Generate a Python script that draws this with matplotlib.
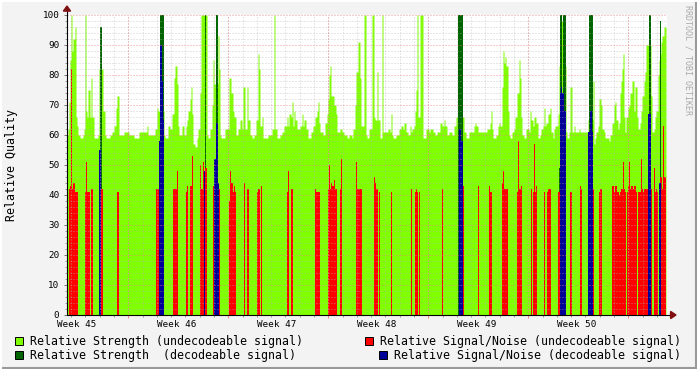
import numpy as np
import matplotlib.pyplot as plt
from matplotlib.patches import Rectangle, Polygon
from matplotlib.lines import Line2D
import matplotlib.transforms as mtrans

# one rrd row per 1.68 h -> 100 rows per week, 600 rows on the graph
STEP_DAYS = 7 / 100
N_ROWS = 600
FIRST_MONDAY = 4.29          # days after graph start
WEEKS = [45, 46, 47, 48, 49, 50]

# (row where the value starts, value) -- step series
green = [(0, 60), (1, 62), (2, 71), (3, 85), (4, 100), (5, 88), (6, 92), (8, 96), (9, 66), (10, 63),
         (11, 60), (13, 59), (16, 60), (17, 62), (18, 100), (19, 68), (20, 66), (21, 75), (23, 66),
         (24, 79), (25, 66), (27, 59), (31, 60), (32, 82), (36, 68), (38, 60), (39, 59), (43, 60),
         (45, 61), (47, 63), (49, 69), (50, 73), (52, 60), (57, 61), (62, 60), (67, 59), (72, 61),
         (80, 63), (81, 60), (88, 62), (90, 69), (91, 68), (97, 60),
         (98, 59), (101, 63), (103, 62), (105, 67), (107, 79), (108, 83), (110, 77), (111, 63),
         (112, 60), (115, 63), (117, 60), (119, 63), (120, 65), (121, 68), (123, 72), (124, 76),
         (125, 67), (126, 57), (128, 56), (130, 59), (131, 62), (133, 74), (134, 100), (140, 60),
         (141, 59), (143, 62), (145, 70), (146, 85), (147, 77), (151, 93), (152, 82), (153, 60),
         (154, 59), (158, 62), (162, 79), (164, 74), (166, 68), (167, 66), (169, 60), (171, 62),
         (173, 65), (175, 62), (176, 76), (178, 62), (180, 76), (181, 65), (183, 60), (185, 59),
         (187, 60), (189, 65), (191, 87), (192, 82), (193, 63), (195, 66), (196, 59),
         (201, 60), (205, 62), (207, 100), (208, 62), (210, 59), (213, 60), (215, 61), (217, 63),
         (220, 66), (221, 63), (222, 67), (224, 66), (225, 71), (226, 63), (227, 68), (228, 65),
         (230, 62), (233, 63), (235, 67), (236, 63), (237, 65), (239, 62), (241, 59), (244, 61),
         (246, 63), (248, 66), (250, 68), (251, 71), (252, 64), (253, 61), (256, 60), (258, 64),
         (260, 67), (261, 72), (262, 80), (263, 83), (264, 73), (267, 70), (269, 67), (270, 61),
         (273, 62), (275, 61), (277, 60), (280, 59), (282, 60), (285, 59), (286, 62), (288, 70),
         (289, 81), (291, 91), (293, 79), (294, 63), (297, 100), (299, 60),
         (300, 59), (302, 62), (305, 100), (307, 66), (308, 65), (310, 81), (311, 65), (313, 59),
         (315, 100), (316, 61), (321, 62), (323, 61), (324, 67), (325, 60), (326, 59), (329, 60),
         (332, 62), (334, 63), (336, 62), (337, 64), (339, 61), (341, 60), (343, 63), (344, 61),
         (345, 62), (347, 63), (348, 68), (349, 75), (350, 100), (351, 66), (353, 100), (356, 59),
         (359, 62), (362, 61), (363, 62), (366, 61), (368, 60), (370, 61), (373, 64), (375, 63),
         (377, 65), (378, 63), (380, 60), (382, 61), (385, 60), (387, 63), (389, 66), (397, 61),
         (399, 59),
         (402, 61), (407, 63), (408, 64), (409, 63), (411, 61), (420, 62), (423, 64), (424, 68),
         (425, 62), (426, 59), (429, 60), (431, 63), (432, 64), (433, 63), (435, 76), (436, 88),
         (437, 84), (438, 86), (439, 83), (441, 68), (442, 60), (443, 59), (445, 61), (447, 62),
         (448, 66), (450, 74), (452, 85), (453, 79), (454, 66), (455, 60), (457, 59), (459, 62),
         (462, 61), (463, 68), (464, 65), (466, 63), (467, 66), (469, 64), (471, 59), (473, 60),
         (474, 62), (476, 63), (477, 69), (478, 63), (479, 64), (481, 67), (483, 69), (484, 61),
         (486, 59), (487, 62), (488, 63), (491, 67), (492, 83), (494, 98), (496, 83), (499, 61),
         (500, 59), (502, 61), (503, 76), (505, 61), (507, 63), (508, 61), (512, 62), (513, 61),
         (521, 65), (526, 78), (527, 57), (528, 59), (529, 61), (531, 63), (532, 72), (534, 70),
         (535, 62), (537, 61), (538, 59), (542, 58), (543, 60), (545, 64), (547, 70), (548, 71),
         (549, 65), (551, 62), (552, 64), (553, 74), (554, 78), (555, 82), (556, 87), (557, 66),
         (558, 61), (559, 66), (561, 69), (562, 70), (563, 74), (565, 78), (567, 68), (568, 76),
         (570, 66), (571, 62), (573, 64), (574, 68), (575, 73), (577, 78), (578, 81), (579, 90),
         (584, 73), (585, 61), (587, 62), (588, 66), (589, 68), (591, 80), (592, 85), (593, 87),
         (594, 91), (595, 93), (597, 96), (599, 0)]

dark_green = [(33, 96), (35, 0), (93, 100), (97, 0), (138, 100), (139, 0), (149, 100), (151, 0),
              (391, 100), (396, 0), (492, 49), (493, 100), (495, 0), (496, 100), (499, 0),
              (522, 100), (526, 0), (582, 100), (584, 0), (593, 98), (594, 0)]

red = [(2, 42), (3, 43), (4, 82), (5, 42), (6, 44), (8, 41), (11, 0), (18, 41), (19, 51), (20, 41),
       (23, 0), (24, 42), (26, 0), (34, 42), (36, 0), (50, 41), (52, 0), (89, 42), (92, 0),
       (106, 42), (110, 48), (111, 0), (119, 41), (120, 43), (121, 0), (123, 43), (125, 53),
       (126, 0), (133, 50), (134, 42), (136, 51), (137, 42), (138, 49), (140, 0), (146, 43),
       (147, 44), (151, 44), (152, 42), (153, 0), (162, 38), (163, 48), (164, 44), (166, 41),
       (167, 43), (168, 41), (169, 0), (177, 44), (178, 0), (180, 42), (182, 0), (190, 41),
       (191, 42), (193, 0), (194, 43), (195, 0),
       (220, 41), (221, 48), (222, 0), (224, 42), (226, 0), (248, 42), (249, 41), (253, 0),
       (261, 42), (262, 50), (263, 42), (264, 44), (265, 43), (267, 45), (268, 42), (270, 0),
       (273, 42), (274, 52), (275, 0), (289, 51), (290, 42), (295, 0),
       (307, 46), (308, 44), (309, 42), (311, 0), (312, 41), (313, 0), (324, 41), (325, 0),
       (344, 42), (345, 0), (348, 41), (349, 42), (350, 41), (351, 0), (352, 41), (353, 0),
       (375, 42), (376, 0), (396, 43), (397, 0),
       (411, 43), (412, 0), (422, 43), (423, 41), (425, 0), (435, 44), (436, 48), (437, 42),
       (441, 0), (450, 41), (451, 58), (452, 42), (454, 43), (455, 0), (464, 42), (465, 0),
       (466, 41), (467, 57), (468, 41), (469, 43), (470, 0), (477, 41), (478, 0), (480, 41),
       (481, 42), (484, 0), (491, 41), (493, 42), (494, 0),
       (503, 41), (505, 0), (513, 43), (514, 42), (515, 0), (526, 42), (527, 0), (532, 41),
       (533, 42), (535, 0), (545, 43), (547, 41), (548, 43), (550, 41), (552, 40), (553, 41),
       (554, 42), (556, 51), (557, 42), (558, 41), (559, 0), (560, 41), (561, 43), (562, 51),
       (563, 42), (564, 43), (566, 42), (567, 43), (569, 41), (570, 0), (571, 41), (574, 52),
       (575, 42), (576, 41), (577, 42), (581, 0), (584, 42), (585, 0), (587, 49), (588, 41),
       (589, 42), (590, 41), (591, 0), (593, 46), (595, 42), (596, 63), (597, 46), (599, 0)]

blue = [(32, 55), (34, 0), (92, 58), (93, 90), (95, 78), (96, 65), (97, 0), (137, 48), (138, 0),
        (147, 52), (149, 64), (151, 44), (152, 0), (392, 62), (394, 58), (396, 0), (493, 74),
        (494, 76), (495, 74), (497, 68), (499, 0), (521, 61), (523, 68), (525, 61), (526, 0),
        (581, 67), (584, 0), (592, 44), (594, 0)]

legend_labels = ["Relative Strength (undecodeable signal)",
                 "Relative Strength  (decodeable signal)",
                 "Relative Signal/Noise (undecodeable signal)",
                 "Relative Signal/Noise (decodeable signal)"]
colors = ['#80FF00', '#006400', '#FF0000', '#000099']

W, H = 697, 369
MONO = 'DejaVu Sans Mono'

fig = plt.figure(figsize=(W / 100, H / 100), dpi=100, facecolor='#F3F3F3')
ax = fig.add_axes([67 / W, 1 - 315 / H, 600 / W, 300 / H])
ax.set_facecolor('white')

for series, col, z in zip([green, dark_green, red, blue], colors, [1, 2, 3, 4]):
    rows, vals = zip(*series)
    t = np.array(rows) * STEP_DAYS
    ax.fill_between(t, 0, vals, step='post', color=col, lw=0, antialiased=False, zorder=z)

x_end = N_ROWS * STEP_DAYS
ax.set_xlim(0, x_end)
ax.set_ylim(0, 100)

# grid drawn on top like rrdtool
days = np.arange(FIRST_MONDAY - 7, x_end, 1.0)
days = days[(days > 0) & (days < x_end)]
mondays = np.arange(FIRST_MONDAY, x_end, 7.0)
dot = (0, (1, 2))
for d in days:
    ax.axvline(d, color='#B0B0B0', lw=0.72, ls=dot, alpha=0.6, zorder=6)
for d in mondays:
    ax.axvline(d, color='#F08080', lw=0.72, ls=dot, alpha=0.8, zorder=7)
for v in range(2, 101, 2):
    if v % 10:
        ax.axhline(v, color='#B0B0B0', lw=0.72, ls=dot, alpha=0.6, zorder=6)
for v in range(10, 101, 10):
    ax.axhline(v, color='#F08080', lw=0.72, ls=dot, alpha=0.8, zorder=7)

for s in ax.spines.values():
    s.set_visible(False)

ax.set_yticks(range(0, 101, 10))
ax.set_yticks(range(0, 101, 2), minor=True)
ax.set_yticklabels([str(v) for v in range(0, 101, 10)], family=MONO, fontsize=6.7)
ax.tick_params(axis='y', which='major', length=2, width=0.7, color='#777777', pad=3.5)
ax.tick_params(axis='y', which='minor', length=1.2, width=0.7, color='#999999')
ax.set_xticks(mondays)
ax.set_xticks(days, minor=True)
ax.set_xticklabels([])
ax.tick_params(axis='x', which='major', length=2, width=0.7, color='#F08080')
ax.tick_params(axis='x', which='minor', length=1.2, width=0.7, color='#999999')

# week labels sit roughly mid-week
trans = mtrans.blended_transform_factory(ax.transData, ax.transAxes)
for i, wk in enumerate(WEEKS):
    ax.text(FIRST_MONDAY - 3.6 + 7 * i, -0.032, f"Week {wk}", transform=trans,
            ha='center', va='center', family=MONO, fontsize=6.7)

# axes with arrows
ax.add_line(Line2D([0, 1.008], [0, 0], transform=ax.transAxes, color='black', lw=0.8,
                   clip_on=False, zorder=8))
ax.add_line(Line2D([0, 0], [0, 1.02], transform=ax.transAxes, color='black', lw=0.8,
                   clip_on=False, zorder=8))
ax.add_patch(Polygon([[1.006, -0.012], [1.006, 0.012], [1.015, 0]], closed=True,
                     transform=ax.transAxes, color='#7F1010', clip_on=False, zorder=9))
ax.add_patch(Polygon([[-0.006, 1.013], [0.006, 1.013], [0, 1.03]], closed=True,
                     transform=ax.transAxes, color='#7F1010', clip_on=False, zorder=9))

fig.text(12 / W, 1 - 165 / H, "Relative Quality", rotation=90, ha='center', va='center',
         family=MONO, fontsize=8.35)
fig.text(688 / W, 1 - 5 / H, "RRDTOOL / TOBI OETIKER", rotation=270, ha='center', va='top',
         family=MONO, fontsize=6, color='#AAAAAA')

# legend
items = [(15, 341, 30), (15, 355, 30), (365, 341, 380), (379, 355, 394)]
for (bx, by, tx), lab, col in zip(items, legend_labels, colors):
    fig.patches.append(Rectangle((bx / W, 1 - (by + 4) / H), 8 / W, 8 / H, transform=fig.transFigure,
                                 facecolor=col, edgecolor='black', lw=0.7))
    fig.text(tx / W, 1 - by / H, lab, ha='left', va='center', family=MONO, fontsize=8.35)

# rrdtool 3d frame
fig.add_artist(Line2D([0, 1], [1 / H, 1 / H], transform=fig.transFigure, color='#999999', lw=1.5))
fig.add_artist(Line2D([1 - 1 / W, 1 - 1 / W], [0, 1], transform=fig.transFigure, color='#999999', lw=1.5))
fig.add_artist(Line2D([0, 1], [1 - 1 / H, 1 - 1 / H], transform=fig.transFigure, color='white', lw=1.5))
fig.add_artist(Line2D([1 / W, 1 / W], [0, 1], transform=fig.transFigure, color='white', lw=1.5))

fig.savefig('out.png', dpi=100, facecolor=fig.get_facecolor())
